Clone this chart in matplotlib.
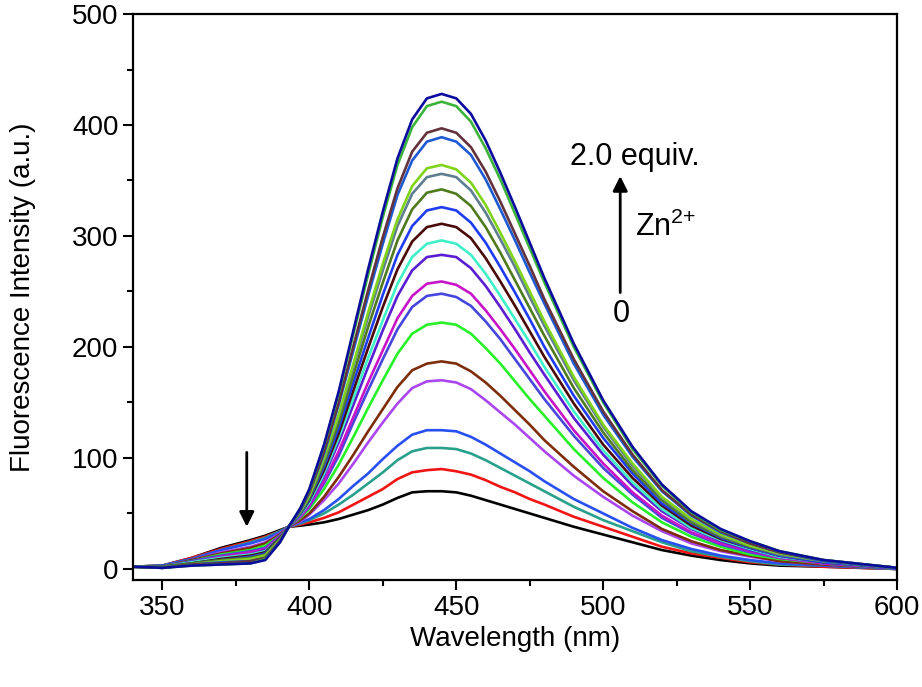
import matplotlib
matplotlib.use("Agg")
import matplotlib.pyplot as plt
from matplotlib.ticker import MultipleLocator

plt.rcParams["font.family"] = ["Liberation Sans", "DejaVu Sans"]
plt.rcParams["mathtext.fontset"] = "custom"
plt.rcParams["mathtext.rm"] = "Liberation Sans"
plt.rcParams["mathtext.it"] = "Liberation Sans:italic"

# ── data ──────────────────────────────────────────────────────────────────────
wavelength = [340, 350, 360, 370, 380, 385, 390, 393, 397, 400, 405, 410, 415, 420,
              425, 430, 435, 440, 445, 450, 455, 460, 465, 470, 475, 480, 490, 500,
              510, 520, 530, 540, 550, 560, 575, 600]

# Zn2+ titration, 0 equiv. (black) -> 2.0 equiv. (navy)
black       = [2, 3, 10, 19, 26, 30, 35, 38, 39, 40, 42, 45, 49, 53, 58, 64, 69, 70, 70, 69, 66, 62, 58, 54, 50, 46, 38, 31, 24, 17, 12, 8, 5, 3, 2, 0]
red         = [2, 3, 10, 18, 25, 29, 34, 38, 40, 42, 46, 51, 58, 65, 72, 81, 87, 89, 90, 88, 85, 80, 74, 69, 63, 58, 47, 38, 29, 20, 14, 10, 6, 4, 2, 0]
teal        = [2, 3, 9, 17, 24, 28, 34, 38, 41, 44, 50, 58, 67, 77, 87, 98, 106, 109, 109, 108, 104, 98, 91, 84, 77, 70, 56, 44, 34, 24, 16, 11, 7, 4, 3, 0]
blue1       = [2, 3, 9, 17, 23, 27, 33, 38, 42, 45, 53, 63, 75, 86, 99, 111, 121, 125, 125, 124, 119, 112, 104, 96, 88, 79, 63, 50, 37, 26, 18, 12, 8, 5, 3, 0]
violet      = [2, 2, 8, 15, 20, 24, 32, 38, 43, 49, 62, 77, 95, 114, 132, 149, 163, 169, 170, 168, 162, 152, 141, 130, 118, 106, 84, 65, 48, 34, 23, 16, 11, 7, 4, 0]
brown       = [2, 2, 8, 14, 19, 23, 31, 38, 44, 50, 65, 83, 103, 124, 144, 164, 179, 185, 187, 185, 178, 168, 156, 143, 130, 116, 92, 70, 52, 36, 25, 17, 12, 7, 4, 0]
green       = [2, 2, 7, 13, 17, 21, 30, 38, 46, 54, 72, 94, 119, 145, 170, 194, 212, 220, 222, 220, 212, 199, 185, 169, 153, 138, 108, 82, 60, 42, 29, 20, 13, 9, 5, 0]
slateblue   = [2, 2, 7, 12, 16, 19, 30, 38, 47, 56, 77, 102, 132, 161, 189, 216, 236, 246, 248, 245, 237, 223, 207, 189, 171, 153, 120, 91, 67, 46, 32, 22, 15, 10, 5, 0]
magenta     = [2, 2, 6, 11, 15, 18, 29, 38, 47, 57, 79, 106, 137, 168, 197, 226, 246, 257, 259, 256, 248, 233, 216, 198, 179, 160, 125, 95, 69, 48, 33, 23, 16, 10, 5, 1]
blueviolet  = [2, 2, 6, 10, 13, 17, 28, 38, 49, 59, 84, 114, 148, 182, 215, 246, 269, 281, 283, 281, 271, 255, 236, 216, 195, 175, 136, 103, 75, 52, 36, 25, 17, 11, 6, 1]
aquamarine  = [2, 2, 6, 10, 13, 16, 28, 38, 49, 60, 86, 118, 154, 190, 224, 257, 281, 293, 296, 293, 283, 266, 246, 225, 204, 182, 142, 107, 78, 54, 37, 26, 18, 11, 6, 1]
darkbrown   = [2, 2, 5, 9, 12, 15, 28, 38, 50, 62, 89, 122, 161, 199, 236, 270, 295, 308, 311, 308, 298, 280, 259, 237, 214, 191, 149, 112, 82, 57, 39, 27, 19, 12, 6, 1]
blue2       = [2, 2, 5, 8, 11, 14, 27, 38, 50, 63, 92, 127, 168, 208, 247, 283, 309, 323, 326, 323, 312, 294, 272, 249, 225, 200, 156, 118, 86, 59, 41, 28, 19, 12, 6, 1]
olive       = [2, 2, 5, 8, 10, 13, 27, 38, 51, 64, 95, 132, 175, 218, 258, 296, 324, 339, 342, 338, 327, 308, 285, 260, 235, 210, 163, 123, 89, 62, 42, 29, 20, 13, 7, 1]
slate       = [2, 1, 4, 7, 9, 12, 26, 38, 52, 66, 98, 137, 182, 227, 269, 309, 338, 353, 356, 353, 341, 321, 297, 272, 245, 219, 170, 128, 93, 64, 44, 30, 21, 13, 7, 1]
yellowgreen = [2, 1, 4, 7, 9, 12, 26, 38, 52, 66, 100, 139, 185, 231, 275, 315, 345, 361, 364, 360, 348, 328, 303, 277, 250, 223, 173, 130, 95, 65, 45, 31, 21, 14, 7, 1]
blue3       = [2, 1, 4, 6, 7, 10, 25, 38, 53, 69, 104, 148, 197, 246, 293, 337, 368, 385, 389, 385, 373, 351, 324, 296, 267, 239, 185, 139, 101, 70, 48, 33, 23, 15, 7, 1]
maroon      = [2, 1, 4, 5, 7, 10, 25, 38, 54, 69, 106, 150, 201, 251, 299, 343, 376, 393, 397, 393, 380, 358, 331, 302, 273, 243, 189, 142, 103, 71, 49, 34, 23, 15, 8, 1]
green2      = [2, 1, 3, 4, 5, 9, 24, 38, 55, 71, 111, 158, 212, 265, 317, 364, 398, 417, 421, 417, 403, 379, 351, 320, 289, 258, 200, 150, 108, 75, 51, 35, 25, 16, 8, 1]
navy        = [2, 1, 3, 4, 5, 8, 24, 38, 55, 72, 112, 160, 215, 270, 322, 370, 405, 424, 428, 424, 410, 386, 357, 326, 294, 262, 203, 152, 110, 76, 52, 36, 25, 16, 8, 1]

spectra = [black, red, teal, blue1, violet, brown, green, slateblue, magenta,
           blueviolet, aquamarine, darkbrown, blue2, olive, slate, yellowgreen,
           blue3, maroon, green2, navy]

colors = ["#000000", "#F01414", "#28A08C", "#2850F0", "#AA46F0",
          "#7D2D0A", "#28F028", "#4646DC", "#C814C8", "#5A1ED2",
          "#40F0C8", "#4B0A0A", "#1F3CF0", "#4F7A1E", "#5F7E8F",
          "#7FD41A", "#1E5AD2", "#64323C", "#3CB43C", "#0B0B9E"]

# ── figure ────────────────────────────────────────────────────────────────────
fig = plt.figure(figsize=(9.22, 6.87), dpi=100)
ax = fig.add_axes([0.1443, 0.1557, 0.8286, 0.8239])

for ys, c in zip(spectra, colors):
    ax.plot(wavelength, ys, color=c, linewidth=1.9, solid_joinstyle="round")

ax.set_xlim(340, 600)
ax.set_ylim(-10, 500)
ax.xaxis.set_major_locator(MultipleLocator(50))
ax.xaxis.set_minor_locator(MultipleLocator(25))
ax.yaxis.set_major_locator(MultipleLocator(100))
ax.yaxis.set_minor_locator(MultipleLocator(50))
ax.tick_params(which="major", direction="out", length=7, width=1.5, labelsize=20)
ax.tick_params(which="minor", direction="out", length=4, width=1.5)
for sp in ax.spines.values():
    sp.set_linewidth(1.6)

ax.set_xlabel("Wavelength (nm)", fontsize=20, labelpad=4)
ax.set_ylabel("Fluorescence Intensity (a.u.)", fontsize=20, labelpad=26)

# titration arrows and labels
ax.annotate("", xy=(378.7, 38), xytext=(378.7, 105),
            arrowprops=dict(arrowstyle="-|>", color="black", lw=2,
                            mutation_scale=22, shrinkA=0, shrinkB=0))
ax.annotate("", xy=(505.8, 354), xytext=(505.8, 249),
            arrowprops=dict(arrowstyle="-|>", color="black", lw=2,
                            mutation_scale=22, shrinkA=0, shrinkB=0))
ax.text(488.7, 371, "2.0 equiv.", fontsize=22, ha="left", va="center")
ax.text(510.9, 308, r"Zn$^{2{+}}$", fontsize=22, ha="left", va="center")
ax.text(506.3, 230, "0", fontsize=22, ha="center", va="center")

fig.savefig("out.png", dpi=100)
